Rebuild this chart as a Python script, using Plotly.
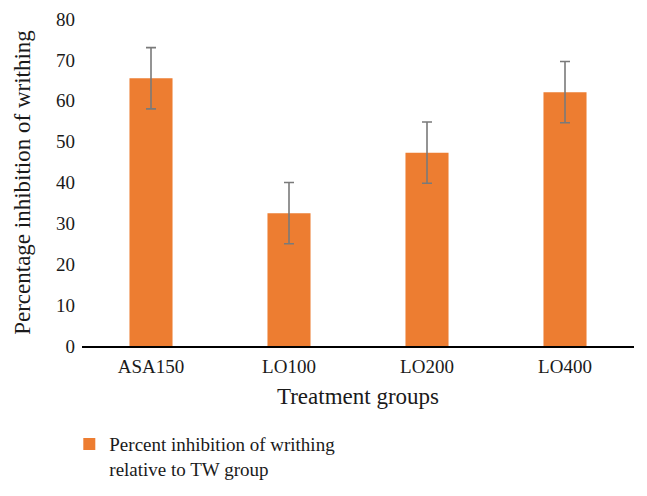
import plotly.graph_objects as go

categories = ["ASA150", "LO100", "LO200", "LO400"]
values = [65.5, 32.5, 47.3, 62.1]
errors = [7.5, 7.5, 7.5, 7.5]
series_name = "Percent inhibition of writhing<br>relative to TW group"

FONT = "Liberation Serif"

fig = go.Figure()
fig.add_trace(go.Bar(
    x=categories, y=values, name=series_name,
    marker=dict(color="#ED7D31", line=dict(width=0)),
    error_y=dict(type="data", array=errors, visible=True,
                 color="#7A7A7A", thickness=1.6, width=5),
    showlegend=True,
))

# page body keeps a default 8px margin, so the figure is sized to fit the window
fig.update_layout(
    width=639, height=488,
    margin=dict(l=74, r=13, t=11, b=150, autoexpand=False),
    paper_bgcolor="white", plot_bgcolor="white",
    font=dict(family=FONT, size=19, color="#1a1a1a"),
    bargap=0.688,
    showlegend=True,
    legend=dict(orientation="h", x=-0.023, y=-0.242, valign="top",
                xanchor="left", yanchor="top", font=dict(size=19, family=FONT),
                bgcolor="rgba(0,0,0,0)"),
    xaxis=dict(showline=True, linecolor="black", linewidth=1.5, ticks="",
               showgrid=False, zeroline=False, tickangle=0, ticklabelstandoff=2,
               title=dict(text="Treatment groups", standoff=12)),
    yaxis=dict(range=[0, 80], dtick=10, showline=False, ticks="",
               showgrid=False, zeroline=False, ticklabelstandoff=6,
               title=dict(text="Percentage inhibition of writhing", standoff=18)),
)

fig.write_html("out.html")
